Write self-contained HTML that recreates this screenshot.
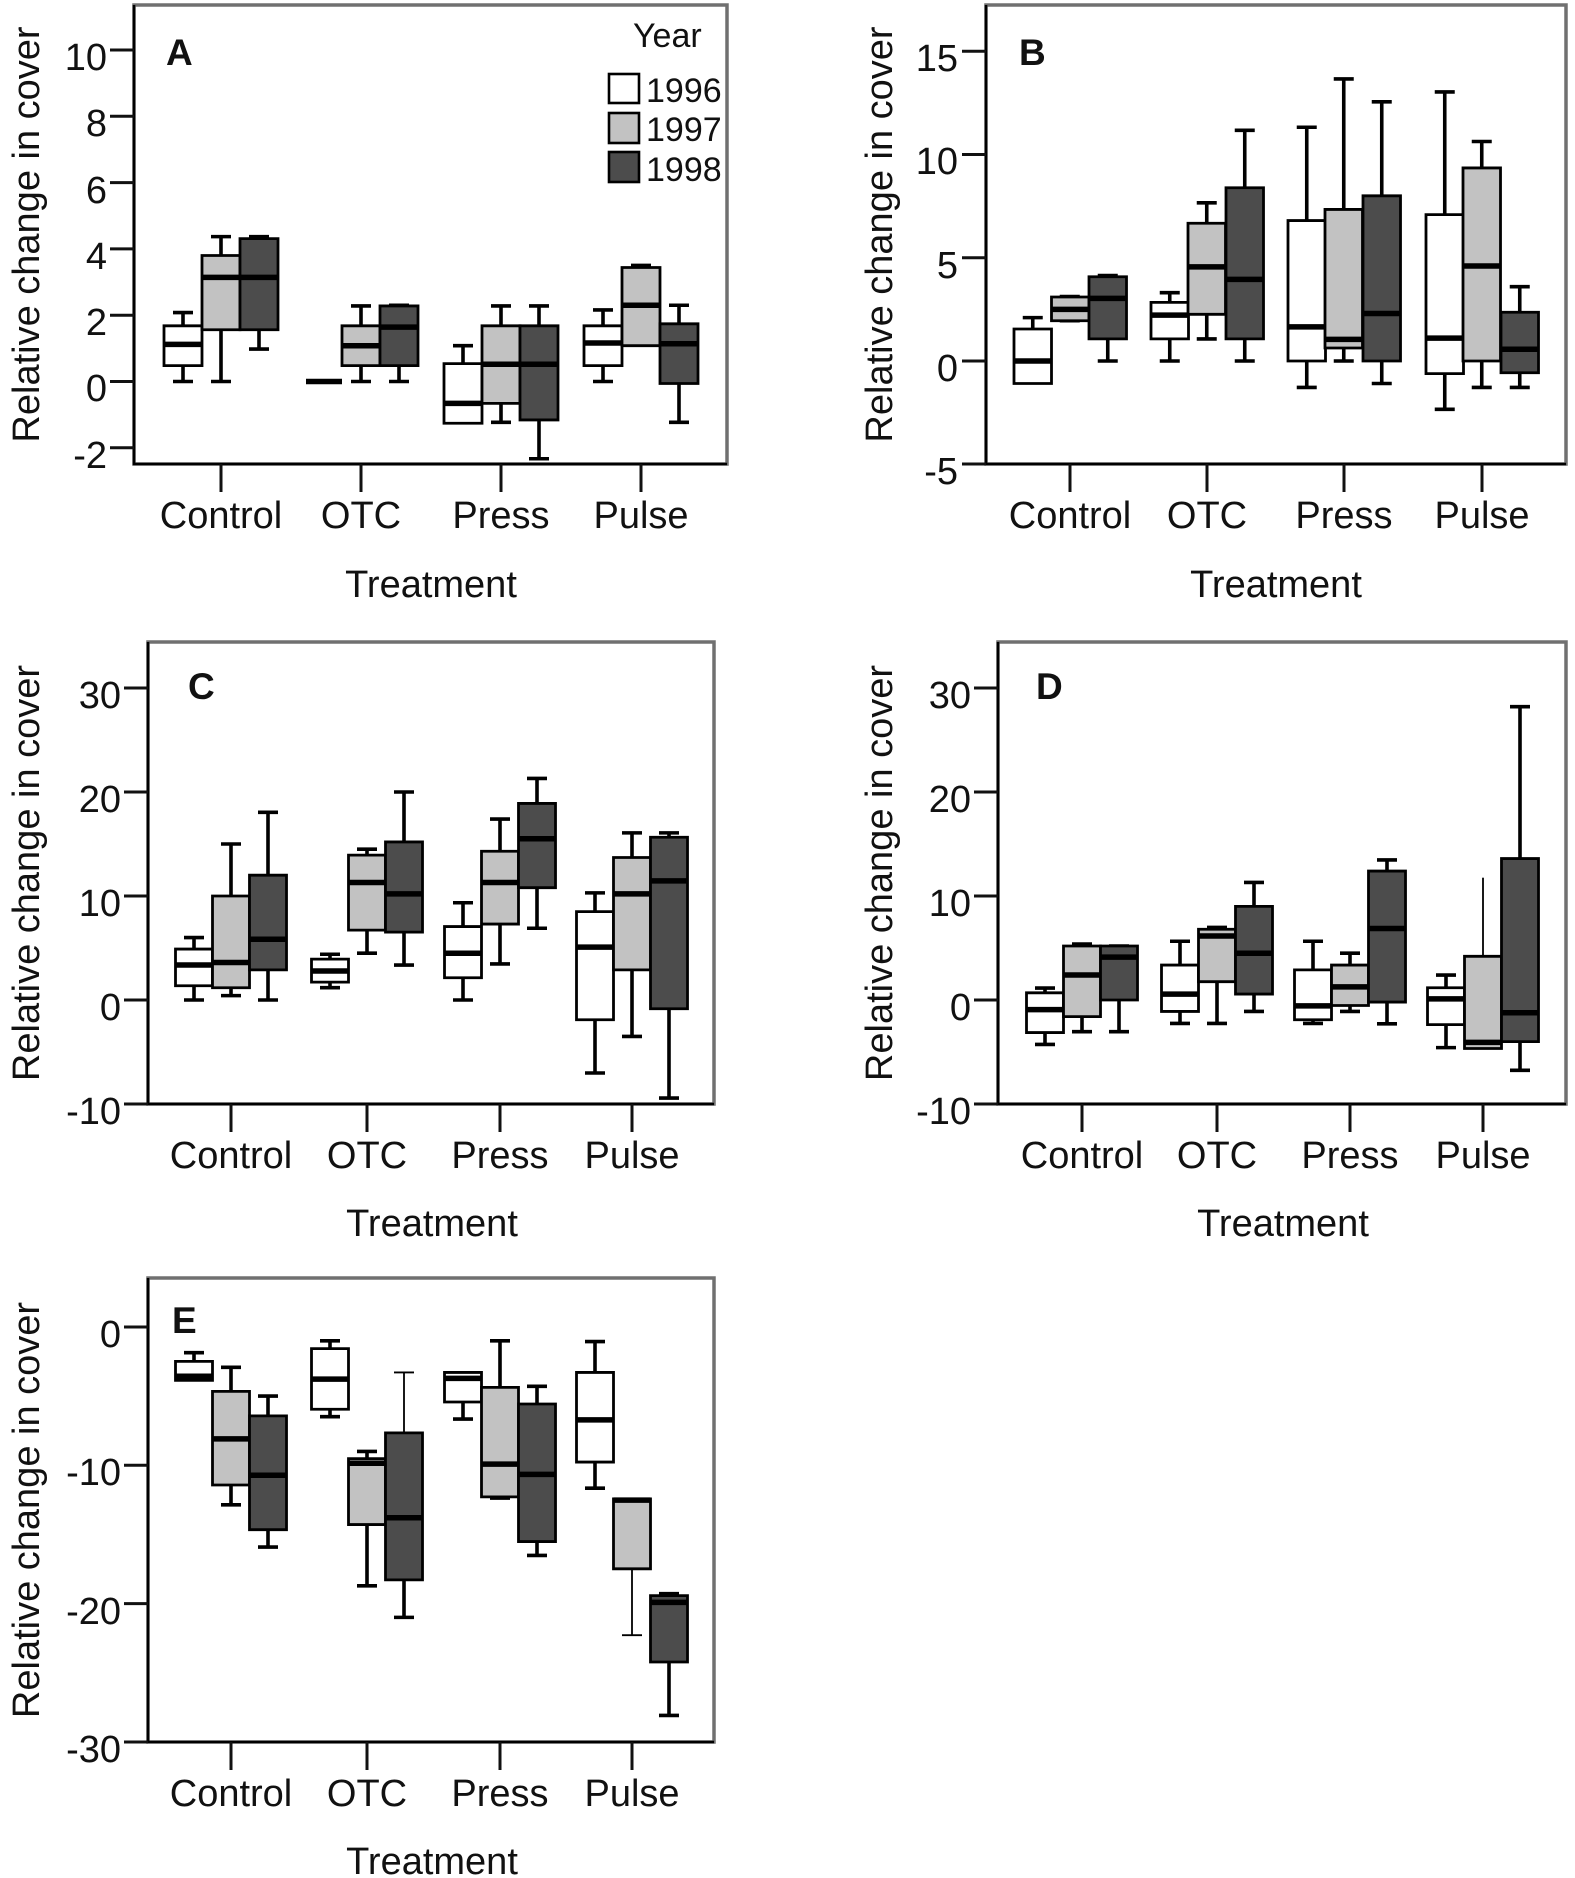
<!DOCTYPE html>
<html><head><meta charset="utf-8">
<style>
html,body{margin:0;padding:0;background:#fff;}
svg{display:block;}
text{font-family:"Liberation Sans",Arial,sans-serif;fill:#111;}
.t{font-size:38px;text-anchor:end;}
.x{font-size:38px;text-anchor:middle;}
.yl{font-size:38px;text-anchor:middle;}
.L{font-size:37px;font-weight:bold;}
.lg{font-size:34px;}
.ax{stroke:#000;stroke-width:2.6;fill:none;}
.fr{stroke:#707070;stroke-width:3.5;fill:none;}
.tk{stroke:#111;stroke-width:3;}
.p *{vector-effect:non-scaling-stroke;}
.w{fill:none;stroke:#000;stroke-width:3.6;}
.th{fill:none;stroke:#000;stroke-width:1.8;}
.b{stroke:#000;stroke-width:2.8;}
.m{fill:none;stroke:#000;stroke-width:5.5;}
.W{fill:#fff;}.G{fill:#c2c2c2;}.D{fill:#4c4c4c;}
</style></head>
<body>
<svg width="1575" height="1878" viewBox="0 0 1575 1878" xmlns="http://www.w3.org/2000/svg">

<!-- ================= PANEL A ================= -->
<rect class="fr" x="134" y="5" width="593" height="459"/>
<path class="ax" d="M134 5V464H727"/>
<g class="tk">
<line x1="110" y1="50" x2="134" y2="50"/><line x1="110" y1="116.3" x2="134" y2="116.3"/>
<line x1="110" y1="182.6" x2="134" y2="182.6"/><line x1="110" y1="248.9" x2="134" y2="248.9"/>
<line x1="110" y1="315.2" x2="134" y2="315.2"/><line x1="110" y1="381.5" x2="134" y2="381.5"/>
<line x1="110" y1="447.8" x2="134" y2="447.8"/>
<line x1="221" y1="464" x2="221" y2="492"/><line x1="361" y1="464" x2="361" y2="492"/>
<line x1="501" y1="464" x2="501" y2="492"/><line x1="641" y1="464" x2="641" y2="492"/>
</g>
<text class="t" x="107" y="70">10</text><text class="t" x="107" y="136">8</text>
<text class="t" x="107" y="203">6</text><text class="t" x="107" y="269">4</text>
<text class="t" x="107" y="335">2</text><text class="t" x="107" y="401">0</text>
<text class="t" x="107" y="468">-2</text>
<text class="x" x="221" y="528">Control</text><text class="x" x="361" y="528">OTC</text>
<text class="x" x="501" y="528">Press</text><text class="x" x="641" y="528">Pulse</text>
<text class="x" x="431" y="597">Treatment</text>
<text class="yl" transform="translate(39,234.5) rotate(-90)">Relative change in cover</text>
<text class="L" x="166" y="65">A</text>
<text class="lg" x="633" y="47">Year</text>
<rect x="609" y="74" width="30" height="29" fill="#fff" stroke="#000" stroke-width="2.6"/>
<rect x="609" y="113" width="30" height="30" fill="#c2c2c2" stroke="#000" stroke-width="2.6"/>
<rect x="609" y="152" width="30" height="30" fill="#4c4c4c" stroke="#000" stroke-width="2.6"/>
<text class="lg" x="646" y="102">1996</text>
<text class="lg" x="646" y="141">1997</text>
<text class="lg" x="646" y="181">1998</text>

<g class="p" transform="matrix(1 0 0 -33.15 0 381.5)">
<path class="w" d="M183 2.08V1.68M183 .48V0M173 2.08H193M173 0H193"/>
<rect class="b W" x="164" y=".48" width="38" height="1.2"/><path class="m" d="M164 1.12H202"/>
<path class="w" d="M221 4.37V3.8M221 1.56V0M211 4.37H231M211 0H231"/>
<rect class="b G" x="202" y="1.56" width="38" height="2.24"/><path class="m" d="M202 3.14H240"/>
<path class="w" d="M259 4.37V4.31M259 1.56V.98M249 4.37H269M249 .98H269"/>
<rect class="b D" x="240" y="1.56" width="38" height="2.75"/><path class="m" d="M240 3.14H278"/>

<path class="m" d="M306 0H342"/>
<path class="w" d="M361 2.28V1.68M361 .48V0M351 2.28H371M351 0H371"/>
<rect class="b G" x="342" y=".48" width="38" height="1.2"/><path class="m" d="M342 1.08H380"/>
<path class="w" d="M399 2.3V2.28M399 .48V0M389 2.3H409M389 0H409"/>
<rect class="b D" x="380" y=".48" width="38" height="1.8"/><path class="m" d="M380 1.64H418"/>

<path class="w" d="M463 1.08V.54M453 1.08H473"/>
<rect class="b W" x="444" y="-1.26" width="38" height="1.8"/><path class="m" d="M444 -.66H482"/>
<path class="w" d="M501 2.28V1.68M501 -.66V-1.23M491 2.28H511M491 -1.23H511"/>
<rect class="b G" x="482" y="-.66" width="38" height="2.34"/><path class="m" d="M482 .52H520"/>
<path class="w" d="M539 2.28V1.68M539 -1.16V-2.33M529 2.28H549M529 -2.33H549"/>
<rect class="b D" x="520" y="-1.16" width="38" height="2.84"/><path class="m" d="M520 .52H558"/>

<path class="w" d="M603 2.16V1.68M603 .48V0M593 2.16H613M593 0H613"/>
<rect class="b W" x="584" y=".48" width="38" height="1.2"/><path class="m" d="M584 1.16H622"/>
<path class="w" d="M641 3.5V3.44M631 3.5H651"/>
<rect class="b G" x="622" y="1.08" width="38" height="2.36"/><path class="m" d="M622 2.3H660"/>
<path class="w" d="M679 2.3V1.74M679 -.06V-1.23M669 2.3H689M669 -1.23H689"/>
<rect class="b D" x="660" y="-.06" width="38" height="1.8"/><path class="m" d="M660 1.14H698"/>
</g>

<!-- ================= PANEL B ================= -->
<rect class="fr" x="986" y="5" width="580" height="459"/>
<path class="ax" d="M986 5V464H1566"/>
<g class="tk">
<line x1="962" y1="51.25" x2="986" y2="51.25"/><line x1="962" y1="154.5" x2="986" y2="154.5"/>
<line x1="962" y1="257.75" x2="986" y2="257.75"/><line x1="962" y1="361" x2="986" y2="361"/>
<line x1="962" y1="464" x2="986" y2="464"/>
<line x1="1070" y1="464" x2="1070" y2="492"/><line x1="1207" y1="464" x2="1207" y2="492"/>
<line x1="1344" y1="464" x2="1344" y2="492"/><line x1="1482" y1="464" x2="1482" y2="492"/>
</g>
<text class="t" x="958" y="71">15</text><text class="t" x="958" y="174">10</text>
<text class="t" x="958" y="278">5</text><text class="t" x="958" y="381">0</text>
<text class="t" x="958" y="484">-5</text>
<text class="x" x="1070" y="528">Control</text><text class="x" x="1207" y="528">OTC</text>
<text class="x" x="1344" y="528">Press</text><text class="x" x="1482" y="528">Pulse</text>
<text class="x" x="1276" y="597">Treatment</text>
<text class="yl" transform="translate(892,234.5) rotate(-90)">Relative change in cover</text>
<text class="L" x="1019" y="65">B</text>

<g class="p" transform="matrix(1 0 0 -20.65 0 361)">
<path class="w" d="M1032.75 2.1V1.55M1022.75 2.1H1042.75"/>
<rect class="b W" x="1014" y="-1.09" width="37.5" height="2.64"/><path class="m" d="M1014 0H1051.5"/>
<path class="w" d="M1059.75 3.12H1079.75M1059.75 1.95H1079.75"/>
<rect class="b G" x="1051.5" y="1.95" width="37.5" height="1.15"/><path class="m" d="M1051.5 2.5H1089"/>
<path class="w" d="M1107.75 4.14V4.08M1107.75 1.07V0M1097.75 4.14H1117.75M1097.75 0H1117.75"/>
<rect class="b D" x="1089" y="1.07" width="37.5" height="3.01"/><path class="m" d="M1089 3.03H1126.5"/>

<path class="w" d="M1169.75 3.31V2.84M1169.75 1.07V0M1159.75 3.31H1179.75M1159.75 0H1179.75"/>
<rect class="b W" x="1151" y="1.07" width="37.5" height="1.77"/><path class="m" d="M1151 2.22H1188.5"/>
<path class="w" d="M1206.75 7.66V6.67M1206.75 2.26V1.07M1196.75 7.66H1216.75M1196.75 1.07H1216.75"/>
<rect class="b G" x="1188" y="2.26" width="37.5" height="4.41"/><path class="m" d="M1188 4.56H1225.5"/>
<path class="w" d="M1244.75 11.17V8.39M1244.75 1.07V0M1234.75 11.17H1254.75M1234.75 0H1254.75"/>
<rect class="b D" x="1226" y="1.07" width="37.5" height="7.32"/><path class="m" d="M1226 3.95H1263.5"/>

<path class="w" d="M1306.75 11.32V6.8M1306.75 0V-1.28M1296.75 11.32H1316.75M1296.75 -1.28H1316.75"/>
<rect class="b W" x="1288" y="0" width="37.5" height="6.8"/><path class="m" d="M1288 1.65H1325.5"/>
<path class="w" d="M1343.75 13.66V7.34M1343.75 .63V0M1333.75 13.66H1353.75M1333.75 0H1353.75"/>
<rect class="b G" x="1325" y=".63" width="37.5" height="6.71"/><path class="m" d="M1325 1.05H1362.5"/>
<path class="w" d="M1381.75 12.55V8M1381.75 0V-1.09M1371.75 12.55H1391.75M1371.75 -1.09H1391.75"/>
<rect class="b D" x="1363" y="0" width="37.5" height="8"/><path class="m" d="M1363 2.3H1400.5"/>

<path class="w" d="M1444.75 13.03V7.09M1444.75 -.61V-2.34M1434.75 13.03H1454.75M1434.75 -2.34H1454.75"/>
<rect class="b W" x="1426" y="-.61" width="37.5" height="7.7"/><path class="m" d="M1426 1.11H1463.5"/>
<path class="w" d="M1481.75 10.63V9.35M1481.75 0V-1.28M1471.75 10.63H1491.75M1471.75 -1.28H1491.75"/>
<rect class="b G" x="1463" y="0" width="37.5" height="9.35"/><path class="m" d="M1463 4.6H1500.5"/>
<path class="w" d="M1519.75 3.6V2.36M1519.75 -.57V-1.28M1509.75 3.6H1529.75M1509.75 -1.28H1529.75"/>
<rect class="b D" x="1501" y="-.57" width="37.5" height="2.93"/><path class="m" d="M1501 .57H1538.5"/>
</g>

<!-- ================= PANEL C ================= -->
<rect class="fr" x="148" y="642" width="566" height="462"/>
<path class="ax" d="M148 642V1104H714"/>
<g class="tk">
<line x1="124" y1="688" x2="148" y2="688"/><line x1="124" y1="792" x2="148" y2="792"/>
<line x1="124" y1="896" x2="148" y2="896"/><line x1="124" y1="1000" x2="148" y2="1000"/>
<line x1="124" y1="1104" x2="148" y2="1104"/>
<line x1="231" y1="1104" x2="231" y2="1132"/><line x1="367" y1="1104" x2="367" y2="1132"/>
<line x1="500" y1="1104" x2="500" y2="1132"/><line x1="632" y1="1104" x2="632" y2="1132"/>
</g>
<text class="t" x="121" y="708">30</text><text class="t" x="121" y="812">20</text>
<text class="t" x="121" y="916">10</text><text class="t" x="121" y="1020">0</text>
<text class="t" x="121" y="1124">-10</text>
<text class="x" x="231" y="1168">Control</text><text class="x" x="367" y="1168">OTC</text>
<text class="x" x="500" y="1168">Press</text><text class="x" x="632" y="1168">Pulse</text>
<text class="x" x="432" y="1236">Treatment</text>
<text class="yl" transform="translate(39,873) rotate(-90)">Relative change in cover</text>
<text class="L" x="188" y="699">C</text>

<g class="p" transform="matrix(1 0 0 -10.4 0 1000)">
<path class="w" d="M194 6V4.9M194 1.37V0M184 6H204M184 0H204"/>
<rect class="b W" x="175.5" y="1.37" width="37" height="3.53"/><path class="m" d="M175.5 3.36H212.5"/>
<path class="w" d="M231 15V10M231 1.18V.42M221 15H241M221 .42H241"/>
<rect class="b G" x="212.5" y="1.18" width="37" height="8.82"/><path class="m" d="M212.5 3.6H249.5"/>
<path class="w" d="M268 18.05V12M268 2.9V0M258 18.05H278M258 0H278"/>
<rect class="b D" x="249.5" y="2.9" width="37" height="9.1"/><path class="m" d="M249.5 5.84H286.5"/>

<path class="w" d="M330 4.4V3.93M330 1.72V1.18M320 4.4H340M320 1.18H340"/>
<rect class="b W" x="311.5" y="1.72" width="37" height="2.21"/><path class="m" d="M311.5 2.79H348.5"/>
<path class="w" d="M367 14.5V13.93M367 6.72V4.5M357 14.5H377M357 4.5H377"/>
<rect class="b G" x="348.5" y="6.72" width="37" height="7.21"/><path class="m" d="M348.5 11.3H385.5"/>
<path class="w" d="M404 20V15.2M404 6.53V3.36M394 20H414M394 3.36H414"/>
<rect class="b D" x="385.5" y="6.53" width="37" height="8.67"/><path class="m" d="M385.5 10.2H422.5"/>

<path class="w" d="M463 9.35V7.06M463 2.14V0M453 9.35H473M453 0H473"/>
<rect class="b W" x="444.5" y="2.14" width="37" height="4.92"/><path class="m" d="M444.5 4.5H481.5"/>
<path class="w" d="M500 17.4V14.3M500 7.3V3.47M490 17.4H510M490 3.47H510"/>
<rect class="b G" x="481.5" y="7.3" width="37" height="7"/><path class="m" d="M481.5 11.3H518.5"/>
<path class="w" d="M537 21.3V18.9M537 10.8V6.9M527 21.3H547M527 6.9H547"/>
<rect class="b D" x="518.5" y="10.8" width="37" height="8.1"/><path class="m" d="M518.5 15.5H555.5"/>

<path class="w" d="M595 10.3V8.5M595 -1.9V-7.02M585 10.3H605M585 -7.02H605"/>
<rect class="b W" x="576.5" y="-1.9" width="37" height="10.4"/><path class="m" d="M576.5 5.08H613.5"/>
<path class="w" d="M632 16.07V13.7M632 2.9V-3.5M622 16.07H642M622 -3.5H642"/>
<rect class="b G" x="613.5" y="2.9" width="37" height="10.8"/><path class="m" d="M613.5 10.2H650.5"/>
<path class="w" d="M669 16.07V15.65M669 -.84V-9.43M659 16.07H679M659 -9.43H679"/>
<rect class="b D" x="650.5" y="-.84" width="37" height="16.49"/><path class="m" d="M650.5 11.45H687.5"/>
</g>

<!-- ================= PANEL D ================= -->
<rect class="fr" x="998" y="642" width="568" height="462"/>
<path class="ax" d="M998 642V1104H1566"/>
<g class="tk">
<line x1="974" y1="688" x2="998" y2="688"/><line x1="974" y1="792" x2="998" y2="792"/>
<line x1="974" y1="896" x2="998" y2="896"/><line x1="974" y1="1000" x2="998" y2="1000"/>
<line x1="974" y1="1104" x2="998" y2="1104"/>
<line x1="1082" y1="1104" x2="1082" y2="1132"/><line x1="1217" y1="1104" x2="1217" y2="1132"/>
<line x1="1350" y1="1104" x2="1350" y2="1132"/><line x1="1483" y1="1104" x2="1483" y2="1132"/>
</g>
<text class="t" x="971" y="708">30</text><text class="t" x="971" y="812">20</text>
<text class="t" x="971" y="916">10</text><text class="t" x="971" y="1020">0</text>
<text class="t" x="971" y="1124">-10</text>
<text class="x" x="1082" y="1168">Control</text><text class="x" x="1217" y="1168">OTC</text>
<text class="x" x="1350" y="1168">Press</text><text class="x" x="1483" y="1168">Pulse</text>
<text class="x" x="1283" y="1236">Treatment</text>
<text class="yl" transform="translate(892,873) rotate(-90)">Relative change in cover</text>
<text class="L" x="1036" y="699">D</text>

<g class="p" transform="matrix(1 0 0 -10.4 0 1000)">
<path class="w" d="M1045 1.15V.69M1045 -3.13V-4.27M1035 1.15H1055M1035 -4.27H1055"/>
<rect class="b W" x="1026.5" y="-3.13" width="37" height="3.82"/><path class="m" d="M1026.5 -.92H1063.5"/>
<path class="w" d="M1082 5.38V5.19M1082 -1.6V-3.05M1072 5.38H1092M1072 -3.05H1092"/>
<rect class="b G" x="1063.5" y="-1.6" width="37" height="6.79"/><path class="m" d="M1063.5 2.4H1100.5"/>
<path class="w" d="M1119 0V-3.05M1109 5.19H1129M1109 -3.05H1129"/>
<rect class="b D" x="1100.5" y="0" width="37" height="5.19"/><path class="m" d="M1100.5 4.12H1137.5"/>

<path class="w" d="M1180 5.65V3.36M1180 -1.1V-2.25M1170 5.65H1190M1170 -2.25H1190"/>
<rect class="b W" x="1161.5" y="-1.1" width="37" height="4.46"/><path class="m" d="M1161.5 .57H1198.5"/>
<path class="w" d="M1217 6.98V6.8M1217 1.76V-2.25M1207 6.98H1227M1207 -2.25H1227"/>
<rect class="b G" x="1198.5" y="1.76" width="37" height="5.04"/><path class="m" d="M1198.5 6.15H1235.5"/>
<path class="w" d="M1254 11.3V9M1254 .57V-1.1M1244 11.3H1264M1244 -1.1H1264"/>
<rect class="b D" x="1235.5" y=".57" width="37" height="8.43"/><path class="m" d="M1235.5 4.5H1272.5"/>

<path class="w" d="M1313 5.65V2.9M1313 -1.9V-2.25M1303 5.65H1323M1303 -2.25H1323"/>
<rect class="b W" x="1294.5" y="-1.9" width="37" height="4.8"/><path class="m" d="M1294.5 -.57H1331.5"/>
<path class="w" d="M1350 4.5V3.36M1350 -.53V-1.1M1340 4.5H1360M1340 -1.1H1360"/>
<rect class="b G" x="1331.5" y="-.53" width="37" height="3.89"/><path class="m" d="M1331.5 1.26H1368.5"/>
<path class="w" d="M1387 13.47V12.4M1387 -.2V-2.29M1377 13.47H1397M1377 -2.29H1397"/>
<rect class="b D" x="1368.5" y="-.2" width="37" height="12.6"/><path class="m" d="M1368.5 6.87H1405.5"/>

<path class="w" d="M1446 2.4V1.18M1446 -2.37V-4.58M1436 2.4H1456M1436 -4.58H1456"/>
<rect class="b W" x="1427.5" y="-2.37" width="37" height="3.55"/><path class="m" d="M1427.5 .11H1464.5"/>
<path class="th" d="M1483 11.76V4.2"/>
<rect class="b G" x="1464.5" y="-4.66" width="37" height="8.86"/><path class="m" d="M1464.5 -4.08H1501.5"/>
<path class="w" d="M1520 28.2V13.6M1520 -4V-6.76M1510 28.2H1530M1510 -6.76H1530"/>
<rect class="b D" x="1501.5" y="-4" width="37" height="17.6"/><path class="m" d="M1501.5 -1.22H1538.5"/>
</g>

<!-- ================= PANEL E ================= -->
<rect class="fr" x="148" y="1278" width="566" height="464"/>
<path class="ax" d="M148 1278V1742H714"/>
<g class="tk">
<line x1="124" y1="1327" x2="148" y2="1327"/><line x1="124" y1="1465.3" x2="148" y2="1465.3"/>
<line x1="124" y1="1603.6" x2="148" y2="1603.6"/><line x1="124" y1="1742" x2="148" y2="1742"/>
<line x1="231" y1="1742" x2="231" y2="1770"/><line x1="367" y1="1742" x2="367" y2="1770"/>
<line x1="500" y1="1742" x2="500" y2="1770"/><line x1="632" y1="1742" x2="632" y2="1770"/>
</g>
<text class="t" x="121" y="1347">0</text><text class="t" x="121" y="1485">-10</text>
<text class="t" x="121" y="1624">-20</text><text class="t" x="121" y="1762">-30</text>
<text class="x" x="231" y="1806">Control</text><text class="x" x="367" y="1806">OTC</text>
<text class="x" x="500" y="1806">Press</text><text class="x" x="632" y="1806">Pulse</text>
<text class="x" x="432" y="1874">Treatment</text>
<text class="yl" transform="translate(39,1510) rotate(-90)">Relative change in cover</text>
<text class="L" x="172" y="1333">E</text>

<g class="p" transform="matrix(1 0 0 -13.83 0 1325)">
<path class="w" d="M194 -2V-2.63M184 -2H204"/>
<rect class="b W" x="175.5" y="-4" width="37" height="1.37"/><path class="m" d="M175.5 -3.71H212.5"/>
<path class="w" d="M231 -3.06V-4.8M231 -11.57V-13M221 -3.06H241M221 -13H241"/>
<rect class="b G" x="212.5" y="-11.57" width="37" height="6.77"/><path class="m" d="M212.5 -8.23H249.5"/>
<path class="w" d="M268 -5.14V-6.57M268 -14.8V-16.06M258 -5.14H278M258 -16.06H278"/>
<rect class="b D" x="249.5" y="-14.8" width="37" height="8.23"/><path class="m" d="M249.5 -10.86H286.5"/>

<path class="w" d="M330 -1.14V-1.71M330 -6.09V-6.63M320 -1.14H340M320 -6.63H340"/>
<rect class="b W" x="311.5" y="-6.09" width="37" height="4.38"/><path class="m" d="M311.5 -3.91H348.5"/>
<path class="w" d="M367 -9.14V-9.66M367 -14.43V-18.86M357 -9.14H377M357 -18.86H377"/>
<rect class="b G" x="348.5" y="-14.43" width="37" height="4.77"/><path class="m" d="M348.5 -10H385.5"/>
<path class="th" d="M404 -3.43V-7.8M394 -3.43H414"/>
<path class="w" d="M404 -18.43V-21.14M394 -21.14H414"/>
<rect class="b D" x="385.5" y="-18.43" width="37" height="10.63"/><path class="m" d="M385.5 -13.94H422.5"/>

<path class="w" d="M463 -5.57V-6.8M453 -6.8H473"/>
<rect class="b W" x="444.5" y="-5.57" width="37" height="2.14"/><path class="m" d="M444.5 -3.86H481.5"/>
<path class="w" d="M500 -1.14V-4.51M490 -1.14H510M490 -12.51H510"/>
<rect class="b G" x="481.5" y="-12.43" width="37" height="7.92"/><path class="m" d="M481.5 -10.06H518.5"/>
<path class="w" d="M537 -4.43V-5.71M537 -15.66V-16.66M527 -4.43H547M527 -16.66H547"/>
<rect class="b D" x="518.5" y="-15.66" width="37" height="9.95"/><path class="m" d="M518.5 -10.8H555.5"/>

<path class="w" d="M595 -1.2V-3.43M595 -9.91V-11.8M585 -1.2H605M585 -11.8H605"/>
<rect class="b W" x="576.5" y="-9.91" width="37" height="6.48"/><path class="m" d="M576.5 -6.86H613.5"/>
<path class="th" d="M632 -17.63V-22.43M622 -22.43H642"/>
<rect class="b G" x="613.5" y="-17.63" width="37" height="5.06"/><path class="m" d="M613.5 -12.66H650.5"/>
<path class="w" d="M669 -19.43V-19.57M669 -24.37V-28.23M659 -19.43H679M659 -28.23H679"/>
<rect class="b D" x="650.5" y="-24.37" width="37" height="4.8"/><path class="m" d="M650.5 -20.06H687.5"/>
</g>

</svg>
</body></html>
